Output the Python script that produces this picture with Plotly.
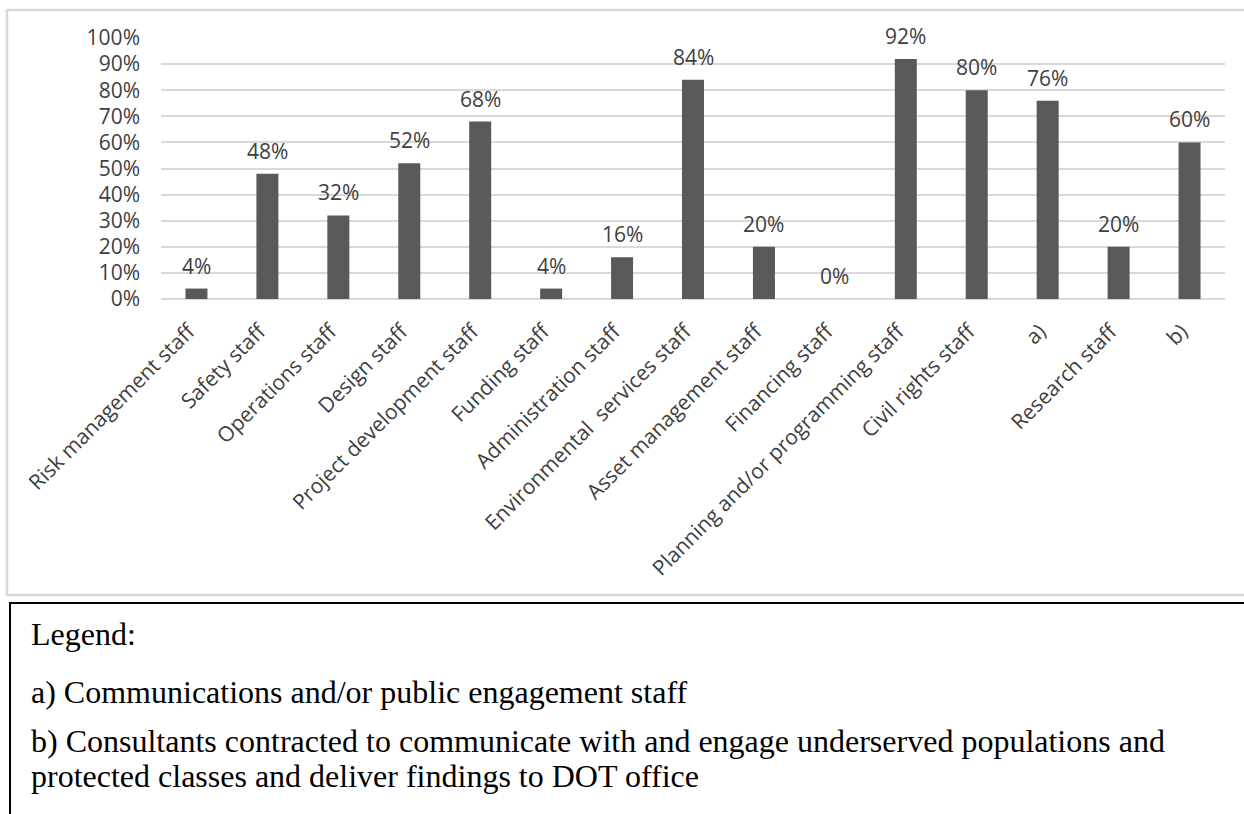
import plotly.graph_objects as go

# Share of agencies reporting each staff type (percent)
categories = [
    "Risk management staff", "Safety staff", "Operations staff", "Design staff",
    "Project development staff", "Funding staff", "Administration staff",
    "Environmental  services staff", "Asset management staff", "Financing staff",
    "Planning and/or programming staff", "Civil rights staff", "a)",
    "Research staff", "b)",
]
values = [4, 48, 32, 52, 68, 4, 16, 84, 20, 0, 92, 80, 76, 20, 60]
y_ticks = list(range(0, 101, 10))

legend_title = "Legend:"
legend_lines = [
    "a) Communications and/or public engagement staff",
    "b) Consultants contracted to communicate with and engage underserved populations and",
    "protected classes and deliver findings to DOT office",
]

W, H = 1244, 814
ML, MR, MT, MB = 161, 19, 38, 515
PW, PH = W - ML - MR, H - MT - MB

def px_x(px):
    return (px - ML) / PW

def px_y(py):
    return (H - MB - py) / PH

CHART_FONT = "Open Sans"
TEXT_COLOR = "#404040"
GRID = "#d9d9d9"

fig = go.Figure(
    go.Bar(
        x=categories,
        y=values,
        marker=dict(color="#595959", line=dict(width=0)),
        width=0.31,
        hoverinfo="skip",
    )
)

# value labels above each bar
for c, v in zip(categories, values):
    fig.add_annotation(
        x=c, y=v, text=f"{v}%", showarrow=False,
        yanchor="bottom", yshift=7,
        font=dict(family=CHART_FONT, size=21, color=TEXT_COLOR),
    )

# chart frame and legend box
fig.add_shape(type="rect", xref="paper", yref="paper",
              x0=px_x(7), x1=px_x(1260), y0=px_y(595), y1=px_y(10),
              line=dict(color=GRID, width=2.5), layer="below")
fig.add_shape(type="rect", xref="paper", yref="paper",
              x0=px_x(10), x1=px_x(1260), y0=px_y(840), y1=px_y(603),
              line=dict(color="black", width=2), layer="above")

SERIF = "Liberation Serif"
legend_rows = [(legend_title, 644)] + list(zip(legend_lines, [702, 751, 786]))
for txt, baseline in legend_rows:
    fig.add_annotation(
        xref="paper", yref="paper", x=px_x(29), y=px_y(baseline - 10),
        text=txt, showarrow=False, xanchor="left", yanchor="middle",
        font=dict(family=SERIF, size=32, color="black"),
    )

fig.update_layout(
    width=W, height=H,
    margin=dict(l=ML, r=MR, t=MT, b=MB, autoexpand=False),
    paper_bgcolor="white", plot_bgcolor="white",
    showlegend=False,
    bargap=0.69,
    xaxis=dict(
        tickangle=-45, tickfont=dict(family=CHART_FONT, size=21, color=TEXT_COLOR),
        showgrid=False, showline=False, ticks="", ticklabelstandoff=15,
        ticklabelshift=-8, fixedrange=True,
    ),
    yaxis=dict(
        range=[0, 100], tickvals=y_ticks, ticktext=[f"{t}%" for t in y_ticks],
        tickfont=dict(family=CHART_FONT, size=21, color=TEXT_COLOR),
        showgrid=True, gridcolor=GRID, gridwidth=2,
        zeroline=True, zerolinecolor=GRID, zerolinewidth=2,
        ticks="", ticklabelstandoff=20, fixedrange=True,
    ),
)

fig.write_html("out.html")
